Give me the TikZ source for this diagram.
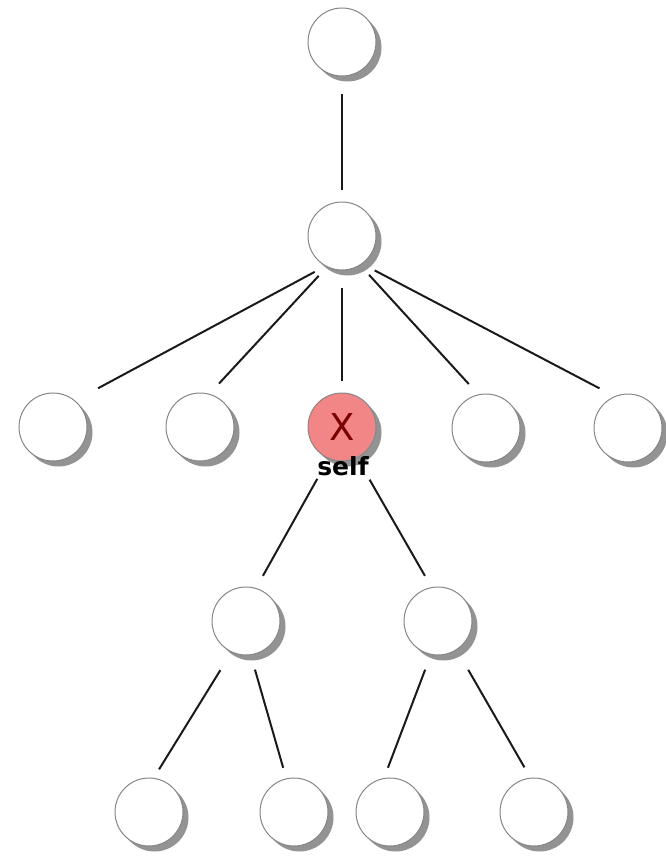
\documentclass[tikz,border=0pt]{standalone}
\usepackage{fontspec}
\usetikzlibrary{shadows}
\newfontfamily\labelfont{DejaVu Sans}
\definecolor{selfRed}{HTML}{F28686}
\definecolor{selfDark}{HTML}{7A0000}
\definecolor{edgeGray}{HTML}{1A1A1A}

\tikzset{
  vertex/.style={circle, draw=gray!95, line width=1pt, fill=white, minimum size=68pt, inner sep=0pt,
    drop shadow={shadow xshift=5.5pt, shadow yshift=-5.5pt, fill=gray!85, opacity=1}},
  link/.style={line width=2pt, draw=edgeGray, shorten <=12pt, shorten >=12pt},
}

\begin{document}
\begin{tikzpicture}[x=1pt, y=-1pt]
\useasboundingbox (0,0) rectangle (666,859);
  % tree levels
  \node[vertex] (root) at (342,42) {};
  \node[vertex] (mid) at (342,236) {};
  \node[vertex] (c1) at (53,427) {};
  \node[vertex] (c2) at (200,427) {};
  \node[vertex, fill=selfRed, text=selfDark, font=\labelfont\fontsize{37}{37}\selectfont] (x) at (342,427) {X};
  \node[vertex] (c4) at (486,428) {};
  \node[vertex] (c5) at (628,428) {};
  \node[vertex] (g1) at (246,621) {};
  \node[vertex] (g2) at (438,621) {};
  \node[vertex] (l1) at (149,812) {};
  \node[vertex] (l2) at (294,812) {};
  \node[vertex] (l3) at (390,812) {};
  \node[vertex] (l4) at (534,812) {};
  \node[font=\labelfont\bfseries\fontsize{25}{25}\selectfont] (selftag) at (343,466) {self};
  % links
  \draw[link, shorten <=17pt] (root.south) -- (mid.north);
  \draw[link, shorten >=26pt] (mid.241) -- (c1.50);
  \draw[link, shorten >=14pt] (mid.244) -- (c2.74);
  \draw[link, shorten <=17pt] (mid.south) -- (x.north);
  \draw[link, shorten <=13pt, shorten >=14pt] (mid.302) -- (c4.103);
  \draw[link, shorten <=14pt, shorten >=17pt] (mid.306) -- (c5.113);
  \draw[link, shorten <=23pt, shorten >=14pt] (x.247) -- (g1.73);
  \draw[link, shorten <=25pt, shorten >=13pt] (x.296) -- (g2.101);
  \draw[link, shorten <=21pt, shorten >=10pt] (g1.245) -- (l1.82);
  \draw[link, shorten <=15pt, shorten >=11pt] (g1.278) -- (l2.103);
  \draw[link, shorten <=16pt, shorten >=11pt] (g2.258) -- (l3.100);
  \draw[link, shorten <=23pt, shorten >=12pt] (g2.303) -- (l4.96);
\end{tikzpicture}
\end{document}
